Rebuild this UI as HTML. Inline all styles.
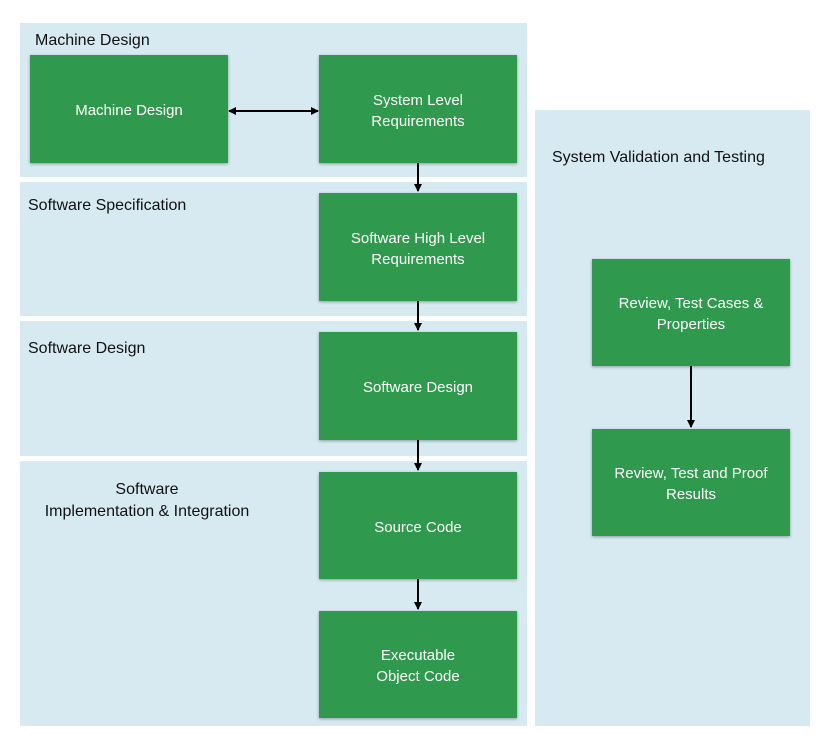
<!DOCTYPE html>
<html><head><style>
body{margin:0;width:838px;height:753px;background:#fff;position:relative;font-family:"Liberation Sans",sans-serif;overflow:hidden}
.p{position:absolute;background:#d7eaf2}
.b{position:absolute;box-sizing:border-box;padding-top:3px;background:#2f9a4d;color:#fff;font-size:15px;display:flex;align-items:center;justify-content:center;text-align:center;line-height:21px;box-shadow:0 1px 3px rgba(0,0,0,.35)}
.t{position:absolute;font-size:16px;color:#111}
</style></head><body>
<div class="p" style="left:20px;top:23px;width:507px;height:154px"></div>
<div class="p" style="left:20px;top:182px;width:507px;height:134px"></div>
<div class="p" style="left:20px;top:321px;width:507px;height:135px"></div>
<div class="p" style="left:20px;top:461px;width:507px;height:265px"></div>
<div class="p" style="left:535px;top:110px;width:275px;height:616px"></div>
<div class="t" style="left:35px;top:32px">Machine Design</div>
<div class="t" style="left:28px;top:197px">Software Specification</div>
<div class="t" style="left:28px;top:340px">Software Design</div>
<div class="t" style="left:20px;top:479px;width:254px;text-align:center;line-height:22px">Software<br>Implementation &amp; Integration</div>
<div class="t" style="left:552px;top:149px">System Validation and Testing</div>
<div class="b" style="left:30px;top:55px;width:198px;height:108px">Machine Design</div>
<div class="b" style="left:319px;top:55px;width:198px;height:108px">System Level<br>Requirements</div>
<div class="b" style="left:319px;top:193px;width:198px;height:108px">Software High Level<br>Requirements</div>
<div class="b" style="left:319px;top:332px;width:198px;height:108px">Software Design</div>
<div class="b" style="left:319px;top:472px;width:198px;height:107px">Source Code</div>
<div class="b" style="left:319px;top:611px;width:198px;height:107px">Executable<br>Object Code</div>
<div class="b" style="left:592px;top:259px;width:198px;height:107px">Review, Test Cases &amp;<br>Properties</div>
<div class="b" style="left:592px;top:429px;width:198px;height:107px">Review, Test and Proof<br>Results</div>
<svg style="position:absolute;left:0;top:0" width="838" height="753">
<defs><marker id="a" markerWidth="8" markerHeight="8" refX="7" refY="4" orient="auto-start-reverse" markerUnits="userSpaceOnUse"><path d="M0,0L8,4L0,8z" fill="#000"/></marker></defs>
<g stroke="#000" stroke-width="2" fill="none">
<line x1="229" y1="111" x2="318" y2="111" marker-start="url(#a)" marker-end="url(#a)"/>
<line x1="418" y1="163" x2="418" y2="191" marker-end="url(#a)"/>
<line x1="418" y1="301" x2="418" y2="330" marker-end="url(#a)"/>
<line x1="418" y1="440" x2="418" y2="470" marker-end="url(#a)"/>
<line x1="418" y1="579" x2="418" y2="609" marker-end="url(#a)"/>
<line x1="691" y1="366" x2="691" y2="427" marker-end="url(#a)"/>
</g></svg>
</body></html>
